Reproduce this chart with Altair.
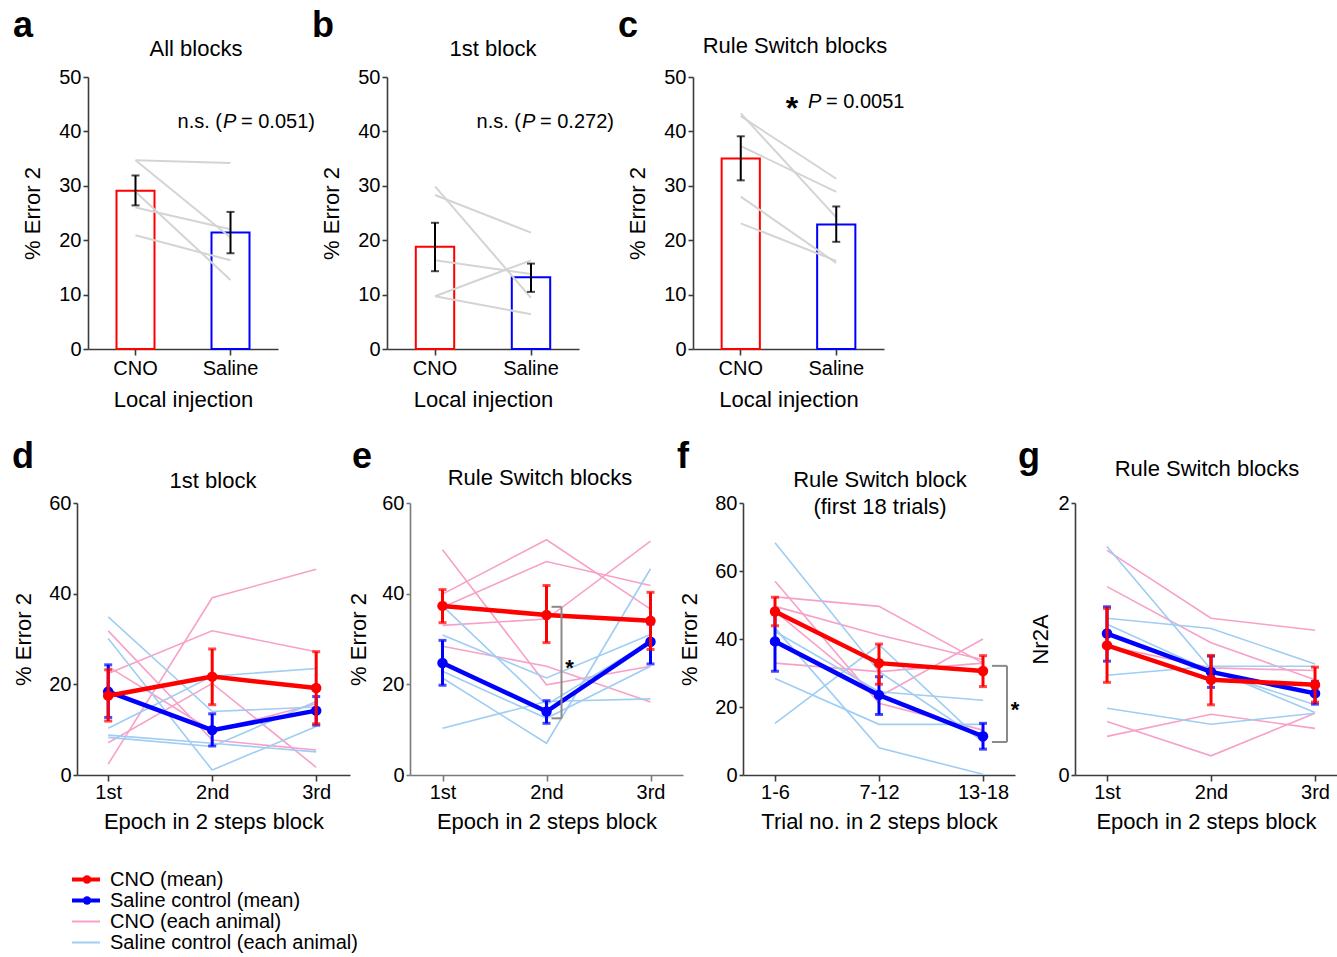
import altair as alt
import pandas as pd

FONT = "Liberation Sans"
RED = "#ff0000"
BLUE = "#0000ff"
PINK = "#f7a1c8"
LBLUE = "#9fcdf3"
GRAY = "#d4d4d4"
INK = "#3c3c3c"

# ---------------- data ----------------
bar_groups = ["CNO", "Saline"]

a_mean = [29.1, 21.4]
a_lo = [26.4, 17.6]
a_hi = [31.9, 25.2]
a_animals = [[34.7, 34.2], [34.7, 20.5], [28.9, 12.7], [26.0, 22.0], [20.9, 16.3]]

b_mean = [18.8, 13.2]
b_lo = [14.3, 10.5]
b_hi = [23.2, 15.7]
b_animals = [[29.9, 9.4], [28.3, 21.4], [16.3, 13.8], [9.7, 16.3], [9.7, 6.4]]

c_mean = [35.0, 22.9]
c_lo = [31.0, 19.7]
c_hi = [39.1, 26.2]
c_animals = [[43.3, 24.2], [42.8, 31.3], [37.3, 28.9], [28.0, 15.8], [23.1, 16.2]]

epochs = ["1st", "2nd", "3rd"]
trials = ["1-6", "7-12", "13-18"]

d_cno_mean = [17.5, 21.7, 19.2]
d_cno_lo = [11.9, 15.5, 11.3]
d_cno_hi = [23.2, 27.8, 27.2]
d_sal_mean = [18.4, 9.9, 14.2]
d_sal_lo = [12.7, 6.4, 11.0]
d_sal_hi = [24.3, 13.5, 17.3]
d_cno_animals = [[2.4, 39.1, 45.4], [22.4, 31.8, 27.2], [7.1, 20.2, 1.7], [31.8, 7.7, 5.5], [23.9, 9.7, 15.7]]
d_sal_animals = [[34.9, 14.0, 15.0], [30.1, 1.1, 10.7], [10.3, 21.8, 23.5], [8.8, 7.0, 5.1], [8.3, 6.3, 16.2]]

e_cno_mean = [37.3, 35.3, 34.0]
e_cno_lo = [33.6, 29.2, 27.7]
e_cno_hi = [40.9, 41.8, 40.3]
e_sal_mean = [24.7, 14.0, 29.4]
e_sal_lo = [19.8, 11.4, 24.5]
e_sal_hi = [29.7, 16.4, 33.3]
e_cno_animals = [[49.7, 19.9, 24.0], [39.9, 51.9, 36.6], [37.0, 47.1, 41.8], [33.0, 34.4, 51.6], [28.4, 24.0, 16.1]]
e_sal_animals = [[37.3, 15.5, 29.6], [30.9, 21.4, 31.0], [22.9, 12.5, 24.0], [21.4, 7.0, 45.5], [10.3, 16.2, 16.8]]

f_cno_mean = [48.1, 32.9, 30.6]
f_cno_lo = [43.9, 26.7, 26.0]
f_cno_hi = [52.3, 38.5, 35.1]
f_sal_mean = [39.3, 23.5, 11.4]
f_sal_lo = [30.5, 17.8, 7.6]
f_sal_hi = [48.1, 28.9, 15.2]
f_cno_animals = [[52.4, 49.6, 32.9], [49.6, 41.2, 33.9], [57.0, 21.1, 13.2], [48.1, 23.0, 40.0], [32.9, 30.4, 32.9]]
f_sal_animals = [[68.3, 30.4, 10.0], [15.2, 38.3, 9.5], [28.4, 14.9, 14.9], [43.2, 8.0, 0.2], [42.2, 24.5, 22.0]]

g_cno_mean = [0.953, 0.70, 0.664]
g_cno_lo = [0.681, 0.516, 0.536]
g_cno_hi = [1.225, 0.879, 0.793]
g_sal_mean = [1.04, 0.758, 0.60]
g_sal_lo = [0.837, 0.644, 0.521]
g_sal_hi = [1.237, 0.874, 0.689]
g_cno_animals = [[1.652, 1.153, 1.064], [1.385, 0.973, 0.70], [0.393, 0.141, 0.454], [0.284, 0.447, 0.343], [0.95, 0.788, 0.768]]
g_sal_animals = [[1.68, 0.777, 0.46], [1.153, 1.077, 0.817], [1.109, 0.763, 0.516], [0.733, 0.80, 0.80], [0.491, 0.373, 0.454]]

legend_labels = ["CNO (mean)", "Saline control (mean)", "CNO (each animal)", "Saline control (each animal)"]
legend_kind = ["mean", "mean", "animal", "animal"]


# ---------------- helpers ----------------
def text_layer(text, x, y, size=20, align="left", baseline="middle", weight="normal", style="normal"):
    return alt.Chart(pd.DataFrame({"t": [text]})).mark_text(
        font=FONT, fontSize=size, align=align, baseline=baseline,
        fontWeight=weight, fontStyle=style, color="black"
    ).encode(text="t:N", x=alt.value(x), y=alt.value(y))


def bar_panel(letter, title, title_x, title_y, mean, lo, hi, animals, notes, width, x_range, ytp, shift=0):
    df = pd.DataFrame({"group": bar_groups, "mean": mean, "lo": lo, "hi": hi})
    rows = []
    for i, pair in enumerate(animals):
        for g, v in zip(bar_groups, pair):
            rows.append({"animal": i, "group": g, "value": v})
    adf = pd.DataFrame(rows)
    X = alt.X("group:N", sort=bar_groups,
              scale=alt.Scale(paddingInner=0.6, paddingOuter=0.3, range=x_range),
              axis=alt.Axis(title="Local injection", labelAngle=0, labelPadding=3, titlePadding=11))

    def Y(f):
        return alt.Y(f, type="quantitative", scale=alt.Scale(domain=[0, 50], nice=False),
                     axis=alt.Axis(title="% Error 2", values=[0, 10, 20, 30, 40, 50], offset=-shift,
                                   titlePadding=ytp, tickSize=5, labelPadding=2))

    bars = alt.Chart(df).mark_bar(fill="white", strokeWidth=2).encode(
        x=X, y=Y("mean"),
        stroke=alt.Stroke("group:N", scale=alt.Scale(domain=bar_groups, range=[RED, BLUE]), legend=None))
    lines = alt.Chart(adf).mark_line(color=GRAY, strokeWidth=2).encode(
        x=X, y=Y("value"), detail="animal:N")
    err = alt.Chart(df).mark_rule(color="black", strokeWidth=2).encode(x=X, y=Y("lo"), y2="hi:Q")
    cap_lo = alt.Chart(df).mark_tick(color="black", size=8, thickness=2).encode(x=X, y=Y("lo"))
    cap_hi = alt.Chart(df).mark_tick(color="black", size=8, thickness=2).encode(x=X, y=Y("hi"))
    layers = [bars, lines, err, cap_lo, cap_hi,
              text_layer(letter, -75 + shift, -40, size=36, weight="bold", baseline="alphabetic"),
              text_layer(title, title_x + shift, title_y, size=22, align="center")]
    for n in notes:
        layers.append(text_layer(n["t"], n["x"] + shift, n["y"], size=n.get("size", 20),
                                 align=n.get("align", "left"), baseline=n.get("baseline", "middle"),
                                 weight=n.get("weight", "normal"), style=n.get("style", "normal")))
    return alt.layer(*layers).properties(width=width, height=272)


def long_animals(cats, animals):
    return pd.DataFrame([{"animal": i, "cat": c, "value": v}
                         for i, row in enumerate(animals) for c, v in zip(cats, row)])


def line_panel(letter, letter_x, titles, cats, width, pad, align, ydom, yvals, ytitle, xtitle, ytp,
               cno, sal, cno_animals, sal_animals, extras=(), axis_color=INK):
    X = alt.X("cat:O", sort=cats, scale=alt.Scale(type="point", padding=pad, align=align),
              axis=alt.Axis(title=xtitle, labelAngle=0, labelPadding=1, titlePadding=9,
                            domainColor=axis_color, tickColor=axis_color))

    def Y(f):
        return alt.Y(f, type="quantitative", scale=alt.Scale(domain=ydom, nice=False),
                     axis=alt.Axis(title=ytitle, values=yvals, format="d", titlePadding=ytp,
                                   tickSize=4, labelPadding=2, domainColor=axis_color, tickColor=axis_color))

    layers = []
    for animals, col in ((cno_animals, PINK), (sal_animals, LBLUE)):
        layers.append(alt.Chart(long_animals(cats, animals)).mark_line(color=col, strokeWidth=1.6).encode(
            x=X, y=Y("value"), detail="animal:N"))
    for (m, lo, hi), col in ((sal, BLUE), (cno, RED)):
        df = pd.DataFrame({"cat": cats, "mean": m, "lo": lo, "hi": hi})
        layers += [
            alt.Chart(df).mark_rule(color=col, strokeWidth=3).encode(x=X, y=Y("lo"), y2="hi:Q"),
            alt.Chart(df).mark_tick(color=col, size=8, thickness=3).encode(x=X, y=Y("lo")),
            alt.Chart(df).mark_tick(color=col, size=8, thickness=3).encode(x=X, y=Y("hi")),
            alt.Chart(df).mark_line(color=col, strokeWidth=4.5).encode(x=X, y=Y("mean")),
            alt.Chart(df).mark_circle(color=col, size=110, opacity=1).encode(x=X, y=Y("mean")),
        ]
    layers += list(extras)
    layers.append(text_layer(letter, letter_x, -35, size=36, weight="bold", baseline="alphabetic"))
    for t, tx, ty in titles:
        layers.append(text_layer(t, tx, ty, size=22, align="center"))
    return alt.layer(*layers).properties(width=width, height=272)


def bracket(cat, top, bottom, xo_line, xo_tick, star_dx, star_y):
    one = pd.DataFrame({"k": [0]})
    xd = alt.XDatum(cat, type="ordinal")
    x2d = alt.X2Datum(cat)
    vert = alt.Chart(one).mark_rule(color="#8a8a8a", strokeWidth=2, xOffset=xo_line).encode(
        x=xd, y=alt.YDatum(top, type="quantitative"), y2=alt.Y2Datum(bottom))
    h1 = alt.Chart(one).mark_rule(color="#8a8a8a", strokeWidth=2, xOffset=xo_tick, x2Offset=xo_line).encode(
        x=xd, x2=x2d, y=alt.YDatum(top, type="quantitative"))
    h2 = alt.Chart(one).mark_rule(color="#8a8a8a", strokeWidth=2, xOffset=xo_tick, x2Offset=xo_line).encode(
        x=xd, x2=x2d, y=alt.YDatum(bottom, type="quantitative"))
    star = alt.Chart(one).mark_text(text="*", font=FONT, fontSize=22, fontWeight="bold", dx=star_dx,
                                    align="center", baseline="alphabetic", color="black").encode(
        x=xd, y=alt.YDatum(star_y, type="quantitative"))
    return [vert, h1, h2, star]


# ---------------- top row ----------------
ns_a = [dict(t="n.s. (", x=134, y=45, align="right"),
        dict(t="P", x=135, y=45, style="italic"),
        dict(t="= 0.051)", x=153, y=45)]
ns_b = [dict(t="n.s. (", x=134, y=45, align="right"),
        dict(t="P", x=135, y=45, style="italic"),
        dict(t="= 0.272)", x=153, y=45)]
ns_c = [dict(t="*", x=99, y=42, size=32, align="center", weight="bold", baseline="alphabetic"),
        dict(t="P", x=115, y=25, style="italic"),
        dict(t="= 0.0051", x=133, y=25)]

pa = bar_panel("a", "All blocks", 108, -28, a_mean, a_lo, a_hi, a_animals, ns_a, 201, [11, 201], 14, shift=11)
pb = bar_panel("b", "1st block", 106, -28, b_mean, b_lo, b_hi, b_animals, ns_b, 197, [0, 192], 14)
pc = bar_panel("c", "Rule Switch blocks", 102, -31, c_mean, c_lo, c_hi, c_animals, ns_c, 191, [0, 191], 14)

top_row = alt.hconcat(pa, pb, pc, spacing=109, bounds="flush")

# ---------------- bottom row ----------------
pd_ = line_panel("d", -65, [("1st block", 136, -22)], epochs, 273, 0.3125, 0.48, [0, 60], [0, 20, 40, 60],
                 "% Error 2", "Epoch in 2 steps block", 13,
                 (d_cno_mean, d_cno_lo, d_cno_hi), (d_sal_mean, d_sal_lo, d_sal_hi),
                 d_cno_animals, d_sal_animals)
pe = line_panel("e", -58, [("Rule Switch blocks", 130, -25)], epochs, 273, 0.3125, 0.5, [0, 60], [0, 20, 40, 60],
                "% Error 2", "Epoch in 2 steps block", 11,
                (e_cno_mean, e_cno_lo, e_cno_hi), (e_sal_mean, e_sal_lo, e_sal_hi),
                e_cno_animals, e_sal_animals,
                extras=bracket("2nd", 37.1, 12.5, 15, 5, 23, 22.1), axis_color="#7a7a7a")
pf = line_panel("f", -66, [("Rule Switch block", 137, -23), ("(first 18 trials)", 137, 4)], trials, 272,
                0.3077, 0.5, [0, 80], [0, 20, 40, 60, 80],
                "% Error 2", "Trial no. in 2 steps block", 13,
                (f_cno_mean, f_cno_lo, f_cno_hi), (f_sal_mean, f_sal_lo, f_sal_hi),
                f_cno_animals, f_sal_animals,
                extras=bracket("13-18", 32.1, 9.7, 24, 9, 32, 17.1))
pg = line_panel("g", -57, [("Rule Switch blocks", 132, -34)], epochs, 262, 0.2596, 0.593, [0, 2], [0, 1, 2],
                "Nr2A", "Epoch in 2 steps block", 5,
                (g_cno_mean, g_cno_lo, g_cno_hi), (g_sal_mean, g_sal_lo, g_sal_hi),
                g_cno_animals, g_sal_animals)

bottom_row = alt.hconcat(pd_, pe, pf, pg, spacing=60, bounds="flush")

# ---------------- legend ----------------
ldf = pd.DataFrame({"label": legend_labels, "kind": legend_kind})
LY = alt.Y("label:N", sort=legend_labels, axis=None, scale=alt.Scale(paddingInner=0, paddingOuter=0))
LC = alt.Color("label:N", scale=alt.Scale(domain=legend_labels, range=[RED, BLUE, PINK, LBLUE]), legend=None)
leg_rule = alt.Chart(ldf).mark_rule().encode(
    x=alt.value(-5), x2=alt.value(23), y=LY, color=LC,
    strokeWidth=alt.StrokeWidth("kind:N", scale=alt.Scale(domain=["mean", "animal"], range=[4, 2]), legend=None))
leg_pt = alt.Chart(ldf).transform_filter(alt.datum.kind == "mean").mark_circle(size=70, opacity=1).encode(
    x=alt.value(10), y=LY, color=LC)
leg_txt = alt.Chart(ldf).mark_text(font=FONT, fontSize=20, align="left", baseline="middle", color="black").encode(
    x=alt.value(33), y=LY, text="label:N")
# invisible anchor that sets the gap above the legend block
leg_anchor = alt.Chart(pd.DataFrame({"k": [0]})).mark_point(opacity=0, size=1).encode(
    x=alt.value(0), y=alt.value(-7))
legend = alt.layer(leg_rule, leg_pt, leg_txt, leg_anchor).properties(width=300, height=84)

# ---------------- assemble ----------------
full = alt.vconcat(top_row, bottom_row, legend, spacing=29)

chart = full.properties(
    padding={"left": 12, "top": 8, "right": 0, "bottom": 0}
).configure(font=FONT).configure_view(stroke=None).configure_axis(
    domainColor=INK, domainWidth=1.6, tickColor=INK, tickWidth=1.6,
    labelFontSize=20, titleFontSize=22, titleFontWeight="normal",
    labelColor="black", titleColor="black", grid=False, labelFont=FONT, titleFont=FONT
).configure_axisX(tickSize=6)

chart.save("out.html", embed_options={"renderer": "svg", "actions": False})
